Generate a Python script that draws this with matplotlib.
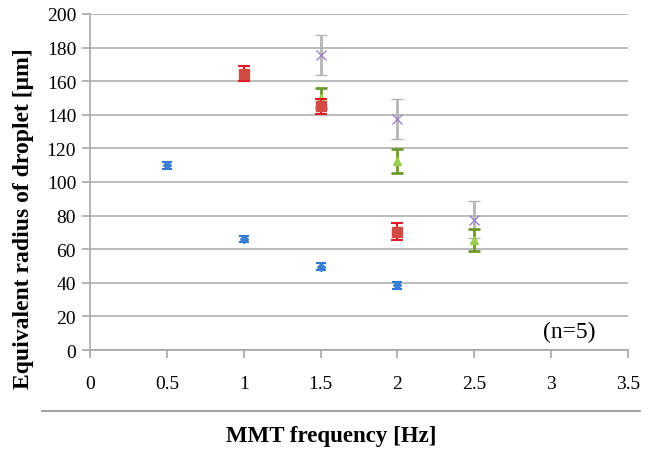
import matplotlib
matplotlib.use("Agg")
import matplotlib.pyplot as plt
from matplotlib.lines import Line2D

# Data
s1_x = [0.5, 1.0, 1.5, 2.0]
s1_y = [110, 66, 49.5, 38.5]
s1_e = [2, 2, 2, 2]

s2_x = [1.0, 1.5, 2.0]
s2_y = [164.5, 145, 70.5]
s2_e = [4.5, 4.5, 5]

s3_x = [1.5, 2.0, 2.5]
s3_y = [150, 112.5, 65.5]
s3_e = [6, 7, 6.5]

s4_x = [1.5, 2.0, 2.5]
s4_y = [175.5, 137.5, 77.5]
s4_e = [12, 12, 11]

xticks = [0, 0.5, 1, 1.5, 2, 2.5, 3, 3.5]
xticklabels = ["0", "0.5", "1", "1.5", "2", "2.5", "3", "3.5"]
yticks = list(range(0, 201, 20))

plt.rcParams['font.family'] = ['Liberation Serif', 'DejaVu Serif']

fig = plt.figure(figsize=(6.52, 4.52), dpi=100)
ax = fig.add_axes([90/652, 1-351/452, (628-90)/652, (351-15)/452])

ax.errorbar(s4_x, s4_y, yerr=s4_e, fmt='x', color='#9b85c5', ms=7, mew=1.0,
            ecolor='#b5b5b5', elinewidth=2, capsize=4, capthick=2, zorder=3)
ax.errorbar(s3_x, s3_y, yerr=s3_e, fmt='^', color='#9bcf50', mec='#9bcf50', ms=6,
            ecolor='#6f9a2e', elinewidth=2, capsize=4, capthick=2, zorder=4)
ax.errorbar(s2_x, s2_y, yerr=s2_e, fmt='s', color='#d24a45', mec='#d24a45', ms=6.5,
            ecolor='#e01b24', elinewidth=1.5, capsize=4, capthick=1.5, zorder=5)
ax.errorbar(s1_x, s1_y, yerr=s1_e, fmt='D', color='#3d7fd0', mec='#3d7fd0', ms=4,
            ecolor='#2a78d8', elinewidth=1.5, capsize=3.5, capthick=1.5, zorder=6)

ax.set_xlim(0, 3.5)
ax.set_ylim(0, 200)
ax.set_xticks(xticks)
ax.set_xticklabels(xticklabels)
ax.set_yticks(yticks)
ax.yaxis.grid(True, color='#b0b0b0', linewidth=1.2)
ax.set_axisbelow(True)
for sp in ['top', 'right']:
    ax.spines[sp].set_visible(False)
for sp in ['left', 'bottom']:
    ax.spines[sp].set_color('#a8a8a8')
    ax.spines[sp].set_linewidth(1.2)
ax.tick_params(axis='x', direction='out', length=6, color='#a8a8a8', width=1.2,
               labelsize=14, pad=12)
ax.tick_params(axis='y', direction='out', length=6, color='#a8a8a8', width=1.2,
               labelsize=14, pad=4)

ax.set_ylabel('Equivalent radius of droplet [μm]', fontsize=17, fontweight='bold')
ax.yaxis.set_label_coords((34-90)/538, (351-218.5)/336)
fig.text(331/652, 1-437/452, 'MMT frequency [Hz]', fontsize=16.5, fontweight='bold',
         ha='center', va='center')
fig.add_artist(Line2D([42/652, 640/652], [1-412/452, 1-412/452], transform=fig.transFigure,
                      color='#909090', linewidth=1.2))

ax.text(3.12, 11, '(n=5)', fontsize=17, ha='center', va='center')

fig.savefig('out.png', dpi=100)
